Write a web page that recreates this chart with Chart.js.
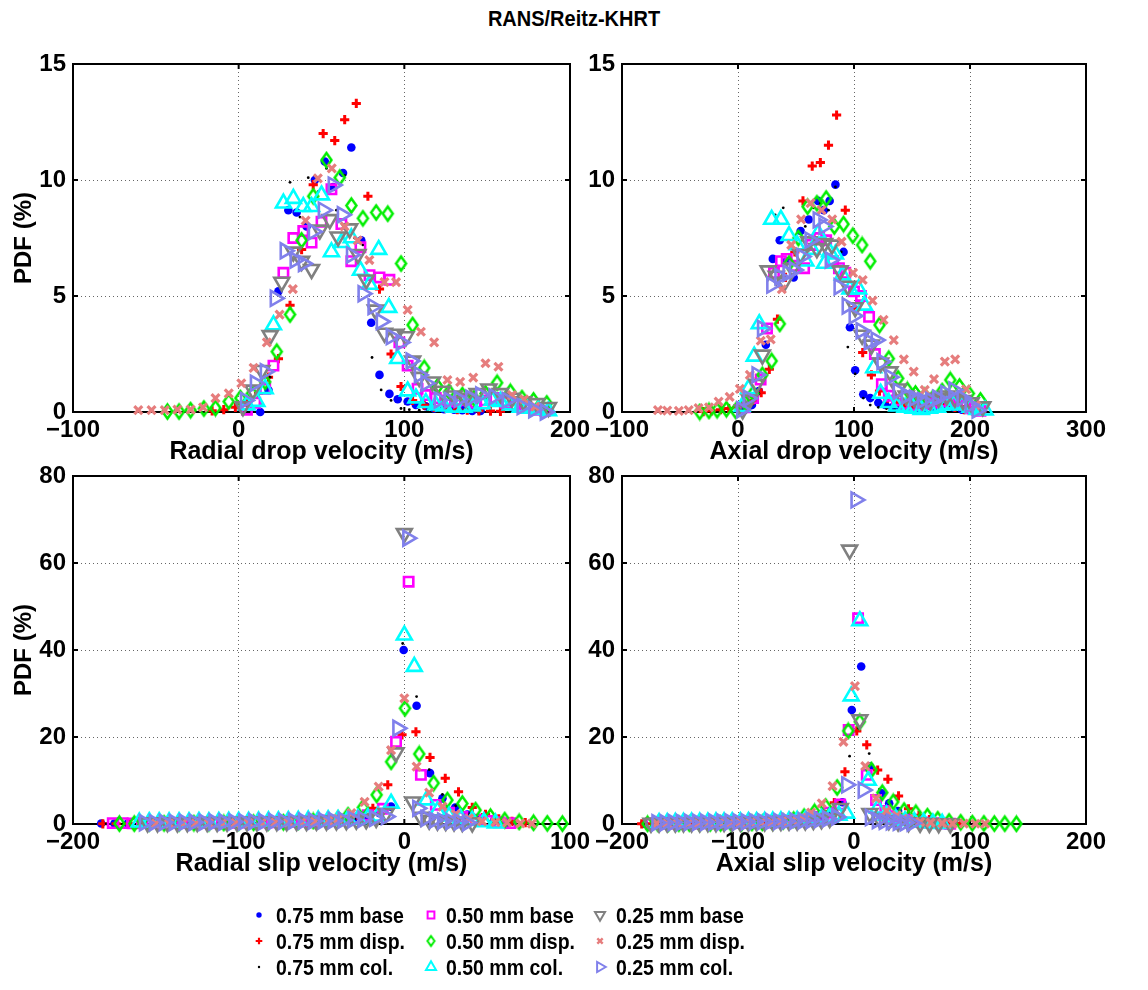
<!DOCTYPE html>
<html>
<head>
<meta charset="utf-8">
<script src="https://cdn.jsdelivr.net/npm/chart.js@4/dist/chart.umd.min.js"></script>
<style>
  body { margin: 0; background: #fff; width: 1148px; height: 990px; position: relative; overflow: hidden;
         font-family: "Liberation Sans", Arial, sans-serif; color: #000; }
  canvas.panel { position: absolute; left: 0; top: 0; }
  #title { position: absolute; top: 7px; left: 0; width: 1148px; text-align: center; font-weight: bold; font-size: 20px;
           transform: scaleY(1.12); }
  .leg { position: absolute; height: 24px; line-height: 24px; font-weight: bold; font-size: 19.5px; white-space: nowrap;
         transform: scaleY(1.15); transform-origin: left center; }
  .legmark { position: absolute; }
</style>
</head>
<body>
<div id="title">RANS/Reitz-KHRT</div>
<canvas class="panel" id="c1" width="1148" height="990"></canvas>
<canvas class="panel" id="c2" width="1148" height="990"></canvas>
<canvas class="panel" id="c3" width="1148" height="990"></canvas>
<canvas class="panel" id="c4" width="1148" height="990"></canvas>
<div id="legend"></div>
<script>
// series names, in plotting order
const seriesLabels = ['0.75 mm base', '0.75 mm disp.', '0.75 mm col.',
                      '0.50 mm base', '0.50 mm disp.', '0.50 mm col.',
                      '0.25 mm base', '0.25 mm disp.', '0.25 mm col.'];

// tick values
const radialDropTicks = [-100, 0, 100, 200];
const axialDropTicks = [-100, 0, 100, 200, 300];
const radialSlipTicks = [-200, -100, 0, 100];
const axialSlipTicks = [-200, -100, 0, 100, 200];
const dropPdfTicks = [0, 5, 10, 15];
const slipPdfTicks = [0, 20, 40, 60, 80];

// ---- Radial drop velocity: [velocity m/s, PDF %]
const rd_b075 = [[13,0.0],[18,0.95],[24,5.2],[30,8.7],[35,8.6],[41,8.0],[46,10.0],[52,10.8],[57,9.7],[63,10.3],[68,11.4],[74,7.4],[80,3.85],[85,1.6],[91,0.78],[96,0.55],[102,0.45],[107,0.3],[113,0.25],[118,0.15],[124,0.12],[130,0.1],[135,0.08],[141,0.05],[146,0.05]];
const rd_d075 = [[-16,0.05],[-9,0.1],[-2,0.2],[5,0.4],[12,0.8],[18,1.5],[24,2.3],[31,4.6],[38,7.0],[45,9.8],[51,12.0],[58,11.7],[64,12.6],[71,13.3],[78,9.3],[85,5.3],[92,2.5],[98,1.1],[105,0.5],[112,0.3],[118,0.2],[125,0.15],[132,0.1],[138,0.08],[145,0.05],[152,0.04],[158,0.03]];
const rd_c075 = [[8,0.05],[13,0.35],[19,1.5],[25,5.0],[31,9.9],[37,8.4],[42,10.1],[48,9.5],[53,10.5],[59,8.7],[64,10.2],[70,7.5],[75,7.2],[80.5,2.35],[86,0.95],[92,0.5],[98,0.15],[103,0.1],[109,0.08],[114,0.05]];
const rd_b050 = [[5,0.1],[10,0.4],[16,1.0],[21,2.0],[27,6.0],[33,7.5],[39,7.8],[44,7.3],[50,8.2],[56,9.6],[62,8.1],[68,6.5],[73.5,7.1],[79,5.9],[85,5.8],[91,5.7],[97,3.0],[102,2.0],[108,1.0],[113,0.73],[119,0.6],[125,0.5],[131,0.45],[137,0.5],[143,0.4],[149,0.5],[155,0.6],[161,0.4],[167,0.3],[173,0.2],[179,0.1],[185,0.05]];
const rd_d050 = [[-43,0.02],[-36,0.02],[-29,0.08],[-21,0.15],[-14,0.17],[-6,0.45],[1,0.6],[8,0.8],[16,1.3],[23,2.6],[31,4.2],[38,7.4],[45,9.3],[53,10.86],[61,10.1],[68,8.9],[75,8.35],[83,8.6],[90,8.55],[98,6.4],[105,3.75],[112,1.9],[120,1.1],[127,0.87],[135,0.73],[142,0.6],[149,0.8],[156,1.26],[164,0.87],[171,0.6],[178,0.5],[186,0.37]];
const rd_c050 = [[5,0.3],[11,0.45],[16,1.0],[21,3.75],[27,9.0],[33,9.2],[39,8.85],[44,8.85],[50,9.35],[56,6.9],[62,7.3],[68,7.5],[73.5,6.1],[79,5.5],[84.5,7.0],[90.6,4.5],[96,2.3],[102,0.9],[107,0.6],[113,0.4],[119,0.3],[124,0.25],[130,0.2],[136,0.2],[141,0.25],[147,0.35],[153,0.5],[158,0.45],[164,0.3],[170,0.2],[175,0.15],[181,0.1],[187,0.05]];
const rd_b025 = [[2.6,0.23],[8.6,0.95],[14,1.8],[19,3.3],[26,5.6],[33,6.9],[38,6.5],[44,6.15],[49,7.85],[55,8.3],[60,7.55],[67,7.9],[72,6.8],[77,5.7],[82.5,4.4],[88,3.4],[95,3.36],[101,3.25],[105,2.2],[109,1.5],[117,1.3],[123,0.9],[130,0.7],[137,0.6],[144,0.8],[151,1.0],[158,0.8],[165,0.6],[172,0.45],[180,0.37],[187,0.2]];
const rd_d025 = [[-60.6,0.08],[-52.6,0.08],[-44.6,0.08],[-37,0.1],[-29,0.1],[-21.5,0.2],[-14,0.6],[-6,0.8],[1.6,1.24],[9,1.9],[17,3.0],[24.7,4.2],[32.7,5.3],[40.4,8.25],[47.8,10.07],[56.2,10.5],[63.9,8.0],[71.9,7.4],[78.9,6.55],[88,5.6],[95,5.6],[102,4.4],[110,3.46],[118,3.0],[126,1.38],[133.7,1.3],[141.6,1.48],[149,2.1],[156.8,1.95],[165,0.73],[172.3,0.55],[179,0.23]];
const rd_c025 = [[4,0.5],[10,1.24],[16,1.74],[22,4.9],[28,6.95],[34,6.55],[39,6.4],[45,7.77],[51,8.7],[57,9.78],[62.5,8.5],[68,6.77],[75,5.1],[81,4.54],[86,3.9],[92,3.25],[98,3.0],[104,2.2],[109,1.6],[113,1.24],[121,0.52],[127,0.5],[133,0.55],[140,0.6],[146,0.73],[154,0.66],[162,0.5],[171,0.23],[178,0.1],[185,0.0]];

// ---- Axial drop velocity
const ad_b075 = [[6,0.1],[12,0.3],[18,0.9],[24,2.9],[30,6.6],[36,7.4],[42,6.5],[48,5.8],[54,7.8],[61,8.3],[69,9.1],[74,8.7],[79,9.1],[84,9.8],[91,6.9],[96.5,3.65],[101,1.8],[108,0.76],[114,0.6],[121,0.4],[127,0.3],[133,0.2],[140,0.15],[147,0.1],[153,0.1],[160,0.15],[167,0.2],[173,0.25],[180,0.3],[186,0.2],[193,0.1]];
const ad_d075 = [[-30,0.02],[-23,0.05],[-15,0.1],[-8,0.15],[-1,0.2],[6,0.3],[13,0.5],[20,0.83],[27,1.84],[34,4.0],[41,5.8],[49,6.9],[56,9.1],[64,10.6],[71,10.75],[78,11.5],[85,12.8],[92.5,8.7],[100,4.5],[107.5,2.56],[115,1.6],[122,0.9],[129,0.6],[136,0.4],[144,0.3],[151,0.25],[158,0.2],[166,0.2],[173,0.3],[180,0.3],[187,0.2],[195,0.1],[202,0.05]];
const ad_c075 = [[12,0.3],[18,0.8],[25,3.5],[32,8.5],[39,8.8],[45,6.2],[52,6.5],[58,8.0],[65,8.8],[71,9.0],[78,8.7],[84,9.7],[89,6.9],[94.7,2.8],[101,1.64],[108,0.6],[114,0.3],[121,0.2],[128,0.15],[135,0.1],[142,0.08]];
const ad_b050 = [[6,0.2],[13,0.6],[19.5,1.4],[25,3.6],[31,6.0],[37,6.5],[42,6.6],[49,6.3],[57,6.2],[63,7.2],[70,7.5],[76,7.4],[82,6.5],[87,6.2],[92.5,6.0],[100,5.2],[106,5.0],[113,4.1],[118,2.5],[124,1.2],[130,0.7],[137,0.5],[144,0.35],[150,0.3],[157,0.3],[163,0.35],[170,0.4],[176,0.45],[183,0.5],[189,0.4],[196,0.3],[202,0.15],[209,0.05]];
const ad_d050 = [[-33,0.0],[-25,0.05],[-18,0.08],[-10,0.12],[-2,0.05],[6,0.4],[13,0.8],[21,1.6],[29,2.2],[36,3.8],[44,6.4],[52,7.5],[60,8.85],[68,9.0],[76,9.2],[83,8.0],[91,8.1],[99,7.6],[107,7.2],[114,6.5],[122,3.75],[130,2.3],[138,1.45],[146,0.95],[153,0.8],[161,0.7],[168,0.6],[176,0.9],[183,1.38],[191,1.1],[199,0.8],[209,0.5]];
const ad_c050 = [[3.5,0.23],[9,1.0],[14,2.4],[18.3,3.8],[29,8.3],[37,8.3],[44,7.6],[51,7.2],[58.5,6.5],[64,7.0],[69,7.7],[74.6,6.4],[79,6.9],[84,6.8],[90,5.9],[96.5,5.3],[104,5.3],[109,4.6],[117,1.9],[123,0.8],[130,0.4],[137,0.25],[144,0.2],[151,0.15],[158,0.1],[165,0.15],[172,0.2],[179,0.3],[186,0.35],[193,0.3],[200,0.2],[206,0.1],[213,0.08]];
const ad_b025 = [[4,0.1],[10,0.52],[16,1.2],[21,2.46],[26,6.09],[33,5.86],[40,5.6],[47,6.2],[54,6.8],[61,7.34],[68,7.05],[74.6,7.27],[81,7.2],[88,6.09],[94.7,5.43],[101,4.5],[107,3.32],[115,2.89],[123,2.12],[131,1.74],[138,1.0],[145,0.7],[152,0.6],[159,0.5],[166,0.5],[173,0.6],[180,0.7],[187,0.6],[194,0.5],[201,0.4],[211,0.23]];
const ad_d025 = [[-69,0.08],[-61,0.06],[-51,0.05],[-42.5,0.08],[-34,0.17],[-25,0.2],[-16.7,0.45],[-7.2,0.65],[1.6,1.0],[10.2,1.6],[19.6,3.07],[28.2,3.13],[37.8,5.29],[45.9,7.2],[54.4,8.3],[62.5,9.0],[72,8.7],[81.2,8.3],[89.3,7.34],[99.2,6.0],[107.5,5.69],[116,4.8],[125.5,3.97],[134.3,3.1],[143,2.27],[151.5,1.74],[161,0.95],[169,1.42],[178.3,2.17],[187.2,2.27],[196.6,0.98],[205,0.3]];
const ad_c025 = [[3,0.1],[8.8,0.59],[16.3,1.6],[21,3.6],[29,5.47],[36,5.83],[43,5.98],[48.5,6.12],[55,6.7],[62,7.41],[69,8.28],[74,8.0],[79.4,6.55],[87,5.4],[94,4.57],[100,4.14],[106,3.5],[113,3.03],[119,3.1],[124,2.17],[131,1.5],[138,0.9],[145,0.7],[152,0.6],[159,0.5],[166,0.5],[172,0.6],[179,0.8],[186,0.95],[193,0.6],[200,0.3],[206,0.08]];

// ---- Radial slip velocity
const rs_b075 = [[-183,0.1],[-175,0.1],[-167,0.08],[-159,0.1],[-151,0.1],[-143,0.12],[-135,0.1],[-127,0.12],[-119,0.15],[-111,0.15],[-103,0.2],[-95,0.2],[-87,0.2],[-79,0.25],[-71,0.3],[-63,0.3],[-55,0.4],[-47,0.5],[-39,0.6],[-31,0.9],[-23,1.5],[-15,2.5],[-8,4.0],[-0.4,40.0],[7.4,27.2],[15.5,11.7],[23,5.9],[30.7,3.8],[38,2.2],[46,1.2],[54,0.6],[62,0.3]];
const rs_d075 = [[-182,0.05],[-174,0.05],[-166,0.08],[-158,0.1],[-150,0.1],[-142,0.1],[-134,0.12],[-126,0.12],[-118,0.15],[-110,0.15],[-102,0.2],[-94,0.2],[-86,0.25],[-78,0.3],[-70,0.35],[-62,0.4],[-54,0.5],[-46,0.7],[-36,1.1],[-28,2.0],[-19,3.6],[-10,9.0],[-1.4,20.5],[7,21.2],[15.5,15.3],[24.7,10.5],[32.7,7.4],[41,3.8],[49,2.2],[57,1.2],[65,0.6],[73,0.3]];
const rs_c075 = [[-180,0.05],[-170,0.05],[-160,0.05],[-150,0.08],[-140,0.08],[-130,0.1],[-120,0.1],[-110,0.12],[-100,0.15],[-90,0.2],[-80,0.2],[-70,0.3],[-60,0.4],[-50,0.5],[-40,0.8],[-30,1.2],[-20,2.0],[-10,4.0],[-1,41.5],[7.4,29.3],[15,12.5],[23,6.8],[31,4.2],[39,2.3],[47,1.3],[55,0.7],[63,0.3]];
const rs_b050 = [[-176,0.2],[-170,0.2],[-164,0.15],[-158,0.2],[-150,0.2],[-142,0.2],[-134,0.25],[-126,0.25],[-118,0.3],[-110,0.3],[-102,0.3],[-94,0.35],[-86,0.4],[-78,0.4],[-70,0.5],[-62,0.6],[-54,0.7],[-46,0.8],[-38,1.0],[-30,1.3],[-22,2.0],[-13,3.5],[-5,18.9],[2.6,55.7],[10,11.3],[19,4.4],[27,2.6],[35,1.6],[43,1.0],[50,0.7],[57,0.4],[64,0.2]];
const rs_d050 = [[-172,0.1],[-163,0.1],[-154,0.12],[-145,0.15],[-136,0.15],[-127,0.2],[-118,0.2],[-109,0.25],[-100,0.3],[-91,0.3],[-82,0.35],[-73,0.4],[-64,0.5],[-55,0.7],[-46,0.9],[-40,1.2],[-34,2.0],[-25,3.8],[-16.7,6.7],[-8,14.3],[0.4,26.6],[9,16.1],[17.7,9.4],[26,5.5],[35,4.7],[43,3.2],[52,1.7],[60.6,0.9],[69.3,0.5],[78,0.3],[86.3,0.15],[95.4,0.1]];
const rs_c050 = [[-160,0.4],[-154,0.5],[-148,0.5],[-142,0.45],[-136,0.5],[-130,0.5],[-124,0.55],[-118,0.5],[-112,0.55],[-106,0.6],[-100,0.6],[-94,0.6],[-88,0.65],[-82,0.7],[-76,0.7],[-70,0.75],[-64,0.8],[-58,0.85],[-52,0.9],[-46,0.95],[-40,1.0],[-34,1.1],[-28,1.2],[-22,1.4],[-16,1.8],[-8,4.75],[0,43.4],[6,36.2],[13.4,5.5],[20,3.0],[27,1.8],[34,1.2],[41,0.8],[48,0.5],[55,0.2]];
const rs_b025 = [[-155,0.3],[-149,0.3],[-143,0.35],[-137,0.3],[-131,0.35],[-125,0.4],[-119,0.4],[-113,0.4],[-107,0.45],[-101,0.45],[-95,0.5],[-89,0.5],[-83,0.5],[-77,0.55],[-71,0.55],[-65,0.6],[-59,0.6],[-53,0.65],[-47,0.7],[-41,0.75],[-35,0.8],[-29,0.9],[-23,1.0],[-17,1.3],[-11,2.45],[-5,16.4],[0,66.8],[5,5.1],[10,1.6],[15,0.9],[20,0.7],[25,0.6],[30,0.5],[35,0.4],[41,0.3]];
const rs_d025 = [[-150,0.1],[-142,0.1],[-134,0.12],[-126,0.12],[-118,0.15],[-110,0.15],[-102,0.2],[-94,0.2],[-86,0.25],[-78,0.3],[-70,0.35],[-62,0.4],[-54,0.5],[-46,0.7],[-40,1.2],[-32,2.5],[-24,5.1],[-15.5,8.6],[-8,17.0],[0,28.9],[7.4,13.2],[15,7.2],[23,4.0],[31,2.3],[39,1.3],[47,0.6],[55,0.4],[62,0.3],[70,0.15],[77,0.1]];
const rs_c025 = [[-157,0.3],[-151,0.3],[-145,0.35],[-139,0.35],[-133,0.4],[-127,0.4],[-121,0.4],[-115,0.45],[-109,0.45],[-103,0.5],[-97,0.5],[-91,0.55],[-85,0.55],[-79,0.6],[-73,0.6],[-67,0.65],[-61,0.7],[-55,0.7],[-49,0.75],[-43,0.8],[-37,0.9],[-31,1.0],[-25,1.1],[-18,1.3],[-11,1.7],[-4,22.0],[2,65.7],[8,3.6],[13,1.3],[18,0.9],[23,0.7],[28,0.6],[33,0.5],[38,0.3]];

// ---- Axial slip velocity
const as_b075 = [[-181,0.05],[-172,0.05],[-163,0.05],[-154,0.08],[-145,0.08],[-136,0.1],[-127,0.1],[-118,0.1],[-109,0.12],[-100,0.15],[-91,0.15],[-82,0.2],[-73,0.2],[-64,0.3],[-55,0.4],[-46,0.6],[-37,0.9],[-28,1.6],[-19,3.0],[-10,5.0],[-1.9,26.2],[6.2,36.2],[13.7,13.2],[23.9,7.05],[30.3,4.75],[38,3.0],[46,1.6],[54,0.8],[62,0.4],[70,0.2]];
const as_d075 = [[-183,0.05],[-174,0.05],[-165,0.05],[-156,0.08],[-147,0.08],[-138,0.1],[-129,0.1],[-120,0.1],[-111,0.12],[-102,0.15],[-93,0.15],[-84,0.2],[-75,0.25],[-66,0.3],[-57,0.4],[-48,0.6],[-35,1.2],[-26,2.8],[-17,4.9],[-7.8,12.0],[2.4,21.4],[11,18.2],[20.4,12.4],[29.2,10.3],[38.4,6.45],[47,3.5],[56,2.0],[65,1.0],[74,0.5],[83,0.3],[92,0.15]];
const as_c075 = [[-180,0.05],[-168,0.05],[-156,0.05],[-144,0.08],[-132,0.1],[-120,0.1],[-108,0.12],[-96,0.15],[-84,0.2],[-72,0.25],[-60,0.35],[-48,0.5],[-36,0.9],[-24,2.0],[-12,5.0],[-3.8,15.6],[4,22.0],[13.1,16.2],[22,8.0],[31,4.5],[40,2.5],[49,1.3],[58,0.6],[67,0.3],[76,0.15]];
const as_b050 = [[-175,0.1],[-166,0.1],[-157,0.1],[-148,0.12],[-139,0.12],[-130,0.15],[-121,0.15],[-112,0.2],[-103,0.2],[-94,0.25],[-85,0.3],[-76,0.35],[-67,0.4],[-58,0.5],[-49,0.7],[-40,1.0],[-31,1.6],[-22,2.6],[-12,4.5],[-4.6,21.6],[3.5,47.3],[11,11.3],[19,5.5],[27,3.0],[35,1.8],[43,1.0],[51,0.6],[59,0.35],[67,0.2],[75,0.1],[83,0.05]];
const as_d050 = [[-178,0.05],[-169,0.05],[-160,0.08],[-151,0.08],[-142,0.1],[-133,0.1],[-124,0.12],[-115,0.15],[-106,0.15],[-97,0.2],[-88,0.25],[-79,0.3],[-70,0.4],[-61,0.6],[-52,1.0],[-43,1.7],[-34,2.8],[-24.4,4.0],[-14.5,8.4],[-5,21.4],[5,23.5],[15,12.4],[24.4,7.2],[33.8,5.1],[43.2,3.1],[53.3,2.6],[63.3,1.8],[72.2,1.1],[82,0.6],[92,0.4],[102,0.2],[112,0.15],[121,0.1],[130,0.08],[140,0.05]];
const as_c050 = [[-168,0.3],[-161,0.3],[-154,0.35],[-147,0.35],[-140,0.4],[-133,0.4],[-126,0.4],[-119,0.45],[-112,0.45],[-105,0.5],[-98,0.5],[-91,0.55],[-84,0.55],[-77,0.6],[-70,0.65],[-63,0.7],[-56,0.7],[-49,0.8],[-42,0.9],[-35,1.0],[-28,1.2],[-21,1.5],[-13,2.0],[-6.4,2.45],[-2.4,29.4],[5,46.7],[12.3,10.0],[20.4,3.6],[28,2.0],[36,1.2],[44,0.7],[52,0.5],[60,0.35],[68,0.2],[76,0.1]];
const as_b025 = [[-175,0.2],[-168,0.2],[-161,0.25],[-154,0.25],[-147,0.3],[-140,0.3],[-133,0.3],[-126,0.35],[-119,0.35],[-112,0.4],[-105,0.4],[-98,0.45],[-91,0.45],[-84,0.5],[-77,0.5],[-70,0.55],[-63,0.6],[-56,0.65],[-49,0.7],[-42,0.75],[-35,0.85],[-28,1.0],[-21,1.3],[-11.8,3.6],[-3.8,63.0],[5,24.0],[13.7,2.45],[22,1.2],[30,0.8],[38,0.5],[47,0.35],[57,0.2],[65,0.15],[73,0.1],[83,0.05]];
const as_d025 = [[-170,0.1],[-161,0.1],[-152,0.12],[-143,0.12],[-134,0.15],[-125,0.15],[-116,0.2],[-107,0.2],[-98,0.25],[-89,0.3],[-80,0.35],[-71,0.4],[-62,0.6],[-53,0.9],[-45,1.5],[-37,2.6],[-27.8,4.75],[-18.5,8.7],[-9.1,18.9],[0.8,31.7],[9.7,13.3],[19,5.9],[28,3.0],[37,2.0],[47,1.2],[57,0.5],[66,0.3],[76,0.2],[85,0.1],[94.7,0.1],[104.6,0.05],[113,0.05]];
const as_c025 = [[-170,0.3],[-163,0.3],[-156,0.35],[-149,0.35],[-142,0.4],[-135,0.4],[-128,0.4],[-121,0.45],[-114,0.45],[-107,0.5],[-100,0.5],[-93,0.5],[-86,0.55],[-79,0.55],[-72,0.6],[-65,0.6],[-58,0.65],[-51,0.7],[-44,0.75],[-37,0.85],[-30,1.0],[-23,1.2],[-15,1.6],[-6.4,9.0],[1.6,74.5],[7.8,7.8],[14,1.5],[20,0.8],[26,0.6],[32,0.5],[38,0.4],[44,0.3],[50,0.2]];

// MATLAB 'd' marker is a tall diamond: build it as a small canvas sprite
function diamondSprite(w, h, lw, color) {
  const c = document.createElement('canvas');
  c.width = Math.ceil(w + lw * 2); c.height = Math.ceil(h + lw * 2);
  const g = c.getContext('2d');
  const cx = c.width / 2, cy = c.height / 2;
  g.strokeStyle = color; g.lineWidth = lw; g.lineJoin = 'miter';
  g.beginPath();
  g.moveTo(cx, cy - h / 2); g.lineTo(cx + w / 2, cy); g.lineTo(cx, cy + h / 2); g.lineTo(cx - w / 2, cy);
  g.closePath(); g.stroke();
  return c;
}
const green = '#00ee00';

// marker look per series
const markers = [
  { pointStyle: 'circle',   rotation: 0,   radius: 4.3, width: 0,   color: '#0000ff',          filled: true,  legR: 2.7 },
  { pointStyle: 'cross',    rotation: 0,   radius: 4.6, width: 3.0, color: '#ff0000',          filled: false, legR: 3.3, legW: 2.2 },
  { pointStyle: 'circle',   rotation: 0,   radius: 1.4, width: 0,   color: '#000000',          filled: true,  legR: 1.2 },
  { pointStyle: 'rect',     rotation: 0,   radius: 6.6, width: 2.6, color: '#ff00ff',          filled: false, legR: 4.8, legW: 2 },
  { pointStyle: diamondSprite(10, 14, 2.5, green), legStyle: diamondSprite(7, 10, 2, green),
    rotation: 0, radius: 7, width: 0, color: green, filled: false, legR: 5 },
  { pointStyle: 'triangle', rotation: 0,   radius: 8.6, width: 2.6, color: '#00ffff',          filled: false, legR: 5.8, legW: 2 },
  { pointStyle: 'triangle', rotation: 180, radius: 8.6, width: 2.6, color: '#808080',          filled: false, legR: 5.8, legW: 2 },
  { pointStyle: 'crossRot', rotation: 0,   radius: 5.6, width: 3.2, color: 'rgb(230,125,125)', filled: false, legR: 3.8, legW: 2.4 },
  { pointStyle: 'triangle', rotation: 90,  radius: 8.6, width: 2.6, color: 'rgb(128,128,235)', filled: false, legR: 5.8, legW: 2 }
];

const tickFont = { family: '"Liberation Sans", Arial, sans-serif', size: 24, weight: 'bold' };
const titleFont = { family: '"Liberation Sans", Arial, sans-serif', size: 25, weight: 'bold' };
const fmtTick = v => (v < 0 ? '\u2212' + Math.abs(v) : String(v));

function toDataset(points, i) {
  const m = markers[i];
  return {
    label: seriesLabels[i],
    data: points.map(([x, y]) => ({ x, y })),
    pointStyle: m.pointStyle,
    pointRotation: m.rotation,
    pointRadius: m.radius,
    pointBorderWidth: m.width,
    pointBorderColor: m.color,
    pointBackgroundColor: m.filled ? m.color : 'rgba(0,0,0,0)',
    showLine: false,
    clip: false,
    order: 8 - i
  };
}

// box + inward tick marks, MATLAB-like
const boxPlugin = {
  id: 'box',
  beforeDatasetsDraw(chart) {
    const { ctx, chartArea: a, scales: { x, y } } = chart;
    ctx.save();
    ctx.strokeStyle = '#000';
    ctx.lineWidth = 2;
    ctx.strokeRect(a.left, a.top, a.right - a.left, a.bottom - a.top);
    ctx.beginPath();
    x.ticks.forEach(t => {
      const px = x.getPixelForValue(t.value);
      ctx.moveTo(px, a.bottom); ctx.lineTo(px, a.bottom - 5);
      ctx.moveTo(px, a.top); ctx.lineTo(px, a.top + 5);
    });
    y.ticks.forEach(t => {
      const py = y.getPixelForValue(t.value);
      ctx.moveTo(a.left, py); ctx.lineTo(a.left + 5, py);
      ctx.moveTo(a.right, py); ctx.lineTo(a.right - 5, py);
    });
    ctx.stroke();
    ctx.restore();
  }
};

function makePanel(id, area, xTicks, yTicks, xTitle, yTitle, series) {
  const W = 1148, H = 990, xH = 55;
  const padLeft = yTitle ? 10 : area.left - 60;
  return new Chart(document.getElementById(id), {
    type: 'scatter',
    data: { datasets: series.map(toDataset) },
    options: {
      responsive: false,
      animation: false,
      devicePixelRatio: 1,
      events: [],
      layout: { padding: { left: padLeft, top: area.top, right: W - area.right, bottom: H - area.bottom - xH } },
      plugins: { legend: { display: false }, tooltip: { enabled: false } },
      scales: {
        x: {
          type: 'linear',
          min: xTicks[0], max: xTicks[xTicks.length - 1],
          afterBuildTicks: s => { s.ticks = xTicks.map(v => ({ value: v })); },
          afterFit: s => { s.height = xH; },
          ticks: { font: tickFont, color: '#000', padding: 4, maxRotation: 0, autoSkip: false, callback: fmtTick },
          grid: { color: 'rgba(0,0,0,0.6)', lineWidth: 1, drawTicks: false },
          border: { display: false, dash: [1, 3] },
          title: { display: true, text: xTitle, font: titleFont, color: '#000', padding: 0 }
        },
        y: {
          type: 'linear',
          min: yTicks[0], max: yTicks[yTicks.length - 1],
          afterBuildTicks: s => { s.ticks = yTicks.map(v => ({ value: v })); },
          afterFit: s => { s.width = area.left - padLeft; },
          ticks: { font: tickFont, color: '#000', padding: 7, autoSkip: false, callback: fmtTick },
          grid: { color: 'rgba(0,0,0,0.6)', lineWidth: 1, drawTicks: false },
          border: { display: false, dash: [1, 3] },
          title: { display: !!yTitle, text: yTitle || '', font: tickFont, color: '#000', padding: 0 }
        }
      }
    },
    plugins: [boxPlugin]
  });
}

const topRow = { top: 64, bottom: 412 };
const botRow = { top: 476, bottom: 824 };
const leftCol = { left: 73, right: 570 };
const rightCol = { left: 622, right: 1086 };

makePanel('c1', { ...leftCol, ...topRow }, radialDropTicks, dropPdfTicks, 'Radial drop velocity (m/s)', 'PDF (%)',
  [rd_b075, rd_d075, rd_c075, rd_b050, rd_d050, rd_c050, rd_b025, rd_d025, rd_c025]);
makePanel('c2', { ...rightCol, ...topRow }, axialDropTicks, dropPdfTicks, 'Axial drop velocity (m/s)', null,
  [ad_b075, ad_d075, ad_c075, ad_b050, ad_d050, ad_c050, ad_b025, ad_d025, ad_c025]);
makePanel('c3', { ...leftCol, ...botRow }, radialSlipTicks, slipPdfTicks, 'Radial slip velocity (m/s)', 'PDF (%)',
  [rs_b075, rs_d075, rs_c075, rs_b050, rs_d050, rs_c050, rs_b025, rs_d025, rs_c025]);
makePanel('c4', { ...rightCol, ...botRow }, axialSlipTicks, slipPdfTicks, 'Axial slip velocity (m/s)', null,
  [as_b075, as_d075, as_c075, as_b050, as_d050, as_c050, as_b025, as_d025, as_c025]);

// legend: 3 columns (0.75 / 0.50 / 0.25 mm) x 3 rows (base / disp. / col.)
const legendRows = [915, 941, 967];
const legendMarkX = [259, 431, 600];
const legendTextX = [276, 446, 616];
const legendBox = document.getElementById('legend');
seriesLabels.forEach((label, i) => {
  const col = Math.floor(i / 3), row = i % 3;
  const m = markers[i];
  const cv = document.createElement('canvas');
  cv.width = 20; cv.height = 20;
  cv.className = 'legmark';
  cv.style.left = (legendMarkX[col] - 10) + 'px';
  cv.style.top = (legendRows[row] - 10) + 'px';
  const ctx = cv.getContext('2d');
  const lw = m.legW || 0;
  ctx.strokeStyle = m.color;
  ctx.fillStyle = m.filled ? m.color : 'rgba(0,0,0,0)';
  ctx.lineWidth = lw;
  Chart.helpers.drawPoint(ctx, { pointStyle: m.legStyle || m.pointStyle, rotation: m.rotation, radius: m.legR, borderWidth: lw }, 10, 10);
  legendBox.appendChild(cv);
  const t = document.createElement('div');
  t.className = 'leg';
  t.textContent = label;
  t.style.left = legendTextX[col] + 'px';
  t.style.top = (legendRows[row] - 12) + 'px';
  legendBox.appendChild(t);
});
</script>
</body>
</html>
